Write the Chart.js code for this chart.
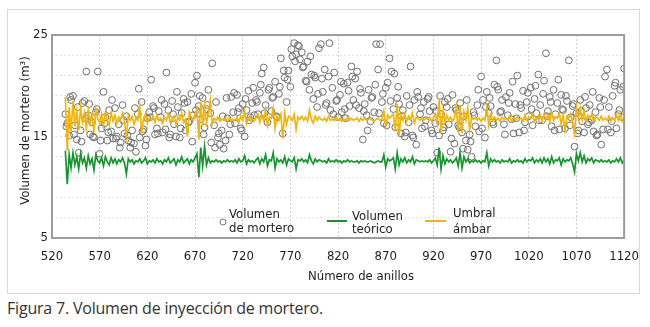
<!DOCTYPE html>
<html>
<head>
<meta charset="utf-8">
<script src="https://cdn.jsdelivr.net/npm/chart.js@4.4.1/dist/chart.umd.min.js"></script>
<style>
  body { margin: 0; background: #fff; }
  #box { position: absolute; left: 7px; top: 9px; width: 633px; height: 285px; border: 1px solid #d9d9d9; box-sizing: border-box; }
  #chart { position: absolute; left: 0; top: 0; }
  #caption { position: absolute; left: 7px; top: 297px; font-family: 'Open Sans', sans-serif; font-size: 16px; letter-spacing: -0.2px; color: #333; white-space: nowrap; }
</style>
</head>
<body>
<div id="box"></div>
<canvas id="chart" width="650" height="295"></canvas>
<div id="caption">Figura 7. Volumen de inyección de mortero.</div>
<script>
// Data <------------------------------------------------------------------------>
const firstRing = 534;   // first ring with data
const ringStep = 2;      // line readings every 2 rings
const xTickValues = [520, 570, 620, 670, 720, 770, 820, 870, 920, 970, 1020, 1070, 1120];
const yTickLabels = [5, 15, 25];

// Volumen teórico (m3), rings 534..1120 every 2
const volumenTeorico = [
    13.6, 10.3, 13.2, 11.9, 13.4, 12.2, 13.0, 11.8, 13.3, 12.4, 12.9, 11.9, 13.1, 12.3, 12.8, 11.7, 13.2, 12.6, 12.4, 12.9, 12.1, 13.0, 12.5, 12.2, 12.9,
    12.4, 12.8, 12.3, 12.7, 12.5, 12.9, 12.4, 11.3, 12.8, 12.5, 12.7, 12.3, 12.6, 12.5, 12.8, 12.4, 12.6, 12.9, 12.3, 12.6, 12.5, 12.7, 12.4, 12.8, 12.5,
    12.6, 12.3, 12.7, 12.5, 12.9, 12.4, 12.6, 12.8, 12.2, 12.7, 12.5, 13.0, 12.4, 12.6, 12.8, 12.3, 12.7, 12.5, 12.9, 13.3, 11.0, 13.9, 12.1, 14.0, 12.2,
    12.9, 12.4, 12.6, 12.5, 12.7, 12.5, 12.6, 12.4, 12.6, 12.5, 12.7, 12.5, 12.6, 12.5, 12.7, 12.4, 12.8, 12.5, 12.6, 13.1, 12.3, 12.7, 12.5, 12.6, 12.4,
    12.7, 12.9, 12.3, 12.8, 12.5, 13.2, 12.1, 12.7, 12.6, 13.4, 11.9, 12.8, 12.5, 12.7, 12.4, 13.0, 12.2, 12.8, 12.6, 12.5, 12.9, 11.8, 12.7, 12.6, 12.8,
    12.5, 12.7, 12.4, 13.2, 12.6, 12.3, 12.8, 12.5, 12.7, 12.6, 12.5, 12.6, 12.4, 12.8, 12.5, 12.6, 12.5, 12.7, 12.5, 12.6, 12.4, 12.6, 12.5, 12.7, 12.5,
    12.6, 12.5, 12.5, 12.6, 12.4, 12.6, 12.5, 12.6, 12.5, 12.5, 12.6, 12.5, 12.4, 12.5, 12.6, 12.5, 12.5, 13.2, 12.0, 12.8, 12.6, 12.7, 12.9, 11.8, 13.4,
    12.2, 12.8, 12.5, 12.9, 12.4, 12.7, 12.5, 13.0, 12.3, 12.7, 12.6, 12.5, 12.6, 12.5, 12.6, 12.5, 12.7, 12.4, 12.6, 12.9, 12.2, 13.9, 11.8, 13.1, 12.3,
    12.8, 12.5, 12.7, 12.4, 12.6, 12.9, 12.1, 13.4, 11.9, 13.0, 12.5, 12.8, 12.4, 12.6, 12.5, 12.7, 12.5, 12.6, 12.4, 12.6, 12.5, 13.4, 12.1, 12.8, 12.5,
    12.7, 12.5, 12.6, 12.4, 12.7, 12.5, 12.6, 12.5, 12.8, 12.4, 12.6, 12.5, 12.7, 12.5, 12.6, 12.4, 12.8, 12.5, 12.7, 12.6, 12.9, 12.4, 12.7, 12.5, 12.8,
    12.4, 12.9, 12.5, 12.8, 12.3, 13.0, 12.4, 12.7, 12.6, 12.9, 12.2, 12.8, 12.5, 12.7, 12.6, 12.9, 12.3, 11.5, 13.3, 12.6, 13.4, 12.5, 13.1, 12.4, 12.8,
    12.6, 12.9, 12.4, 12.7, 12.6, 12.5, 12.7, 12.5, 12.6, 12.5, 12.7, 12.4, 12.6, 12.5, 12.8, 12.5, 12.9, 12.4, 12.7
];

// Umbral ámbar (m3), rings 534..1120 every 2
const umbralAmbar = [
    18.9, 13.6, 17.9, 15.5, 18.5, 16.0, 17.5, 15.6, 17.8, 16.4, 17.3, 15.8, 17.6, 16.3, 17.1, 15.4, 17.7, 16.7, 16.4, 17.2, 16.0, 17.4, 16.6, 16.1, 17.3,
    16.5, 17.1, 16.3, 16.9, 16.6, 17.3, 16.4, 15.0, 17.1, 16.6, 17.0, 16.2, 16.8, 16.6, 18.0, 15.3, 16.8, 17.2, 16.3, 16.8, 16.6, 17.0, 16.4, 17.1, 16.6,
    16.8, 16.3, 16.9, 16.6, 17.2, 16.4, 16.7, 17.0, 16.2, 16.9, 16.6, 17.3, 16.4, 16.7, 15.0, 17.4, 16.9, 16.6, 17.2, 17.7, 14.7, 18.4, 16.1, 17.9, 16.3,
    17.2, 18.6, 16.2, 16.8, 16.6, 16.9, 16.5, 16.7, 16.6, 16.8, 16.5, 16.9, 16.6, 16.7, 16.5, 16.9, 16.4, 17.0, 16.6, 17.5, 16.3, 16.9, 16.6, 16.8, 16.5,
    16.9, 17.2, 16.4, 17.1, 16.6, 17.6, 16.1, 16.9, 16.8, 17.8, 15.8, 17.0, 16.6, 17.2, 14.8, 17.3, 16.2, 17.0, 16.8, 16.6, 17.2, 15.7, 16.9, 16.7, 17.0,
    16.6, 16.9, 16.5, 17.6, 16.7, 16.3, 17.0, 16.6, 16.9, 16.7, 16.6, 16.8, 16.5, 17.0, 16.6, 16.7, 16.6, 16.9, 16.6, 16.8, 16.5, 16.7, 16.6, 16.9, 16.6,
    16.8, 16.6, 16.7, 16.8, 16.5, 16.8, 16.6, 16.8, 16.6, 16.7, 16.8, 16.6, 16.5, 16.7, 16.8, 16.6, 16.7, 17.5, 16.0, 17.1, 16.8, 17.0, 17.2, 15.6, 18.2,
    15.1, 17.1, 16.6, 17.2, 16.5, 17.0, 16.7, 17.3, 16.3, 16.9, 16.8, 16.6, 16.8, 16.6, 16.8, 16.7, 16.9, 16.5, 16.8, 17.2, 16.3, 18.6, 15.3, 17.5, 16.4,
    17.1, 16.6, 16.9, 16.5, 16.8, 17.9, 15.4, 18.1, 15.3, 17.4, 16.6, 17.8, 15.6, 16.8, 16.7, 16.9, 16.6, 16.8, 16.5, 16.8, 16.6, 17.9, 16.1, 17.1, 16.6,
    16.9, 16.6, 16.8, 16.5, 16.9, 16.7, 16.8, 16.6, 17.0, 16.5, 16.8, 16.6, 16.9, 16.7, 16.8, 16.5, 17.1, 16.6, 16.9, 16.8, 17.2, 16.5, 16.9, 16.7, 17.1,
    16.5, 17.2, 16.7, 17.1, 16.4, 17.4, 16.6, 16.9, 16.8, 17.3, 16.2, 17.1, 15.6, 17.0, 16.8, 17.2, 16.4, 15.3, 17.9, 16.8, 17.8, 16.6, 17.5, 16.5, 17.1,
    16.8, 17.2, 16.5, 16.9, 16.8, 16.6, 17.0, 16.6, 16.8, 16.6, 17.0, 16.5, 16.8, 16.6, 17.1, 16.6, 17.3, 16.5, 16.9
];

// Volumen de mortero inyectado (m3), rings 534..1120 every 2
const volumenMortero = [
    17.2, 16.3, 15.1, 18.6, 19.0, 16.1, 14.7, 13.4, 15.6, 18.3, 18.5, 21.4, 17.1, 15.2, 16.4, 14.9, 17.4, 21.4, 13.3, 15.8, 19.4, 16.9, 14.6, 17.6, 15.5,
    14.8, 17.8, 15.0, 16.2, 14.4, 18.1, 15.3, 17.0, 14.6, 13.9, 15.6, 14.3, 13.5, 17.2, 14.9, 18.4, 15.7, 14.1, 16.8, 17.4, 20.6, 18.0, 15.2, 15.8, 17.5,
    16.9, 15.4, 18.2, 21.3, 17.6, 15.2, 18.5, 16.2, 15.0, 17.9, 14.9, 17.3, 18.7, 15.6, 18.4, 16.5, 19.2, 17.1, 20.3, 21.0, 18.0, 16.7, 18.8, 15.9, 17.7,
    19.6, 17.3, 22.2, 16.1, 18.4, 14.9, 14.2, 15.6, 13.8, 14.6, 16.8, 15.2, 18.9, 17.4, 16.3, 19.1, 17.8, 15.8, 18.2, 15.0, 17.6, 19.5, 16.9, 18.3, 17.1,
    18.6, 17.2, 19.3, 21.2, 21.8, 18.1, 16.4, 19.8, 17.5, 18.9, 20.4, 16.9, 19.2, 22.7, 15.3, 20.8, 18.4, 21.5, 19.9, 22.9, 24.2, 23.1, 24.0, 22.6, 23.3,
    21.9, 20.5, 22.4, 19.6, 21.1, 18.7, 20.8, 17.9, 23.7, 24.1, 19.4, 21.6, 18.3, 20.9, 17.6, 19.8, 21.3, 18.5, 16.9, 19.1, 17.4, 20.2, 16.8, 20.3, 18.0,
    21.9, 18.6, 20.7, 21.4, 17.8, 19.3, 14.7, 18.2, 17.1, 19.6, 16.5, 18.9, 17.4, 24.1, 21.6, 24.1, 18.4, 16.3, 19.8, 20.3, 22.7, 21.4, 17.7, 15.9, 18.8,
    18.2, 15.3, 17.6, 15.0, 19.0, 16.4, 21.9, 15.1, 18.6, 14.2, 18.9, 17.2, 15.8, 18.4, 16.6, 18.7, 17.5, 15.6, 17.9, 16.3, 13.4, 15.1, 17.2, 15.6, 18.4,
    17.9, 16.2, 13.5, 19.1, 14.3, 17.6, 16.1, 18.3, 15.4, 17.0, 14.6, 13.7, 15.2, 13.0, 17.4, 16.0, 18.1, 15.5, 20.9, 18.6, 14.9, 19.4, 17.3, 18.0, 16.4,
    20.1, 22.5, 19.6, 17.4, 18.6, 16.2, 18.9, 17.1, 19.3, 16.7, 15.3, 18.2, 21.0, 15.4, 17.8, 19.5, 16.4, 18.4, 17.0, 19.8, 16.1, 18.7, 17.3, 21.1, 18.1,
    16.6, 20.5, 23.2, 17.5, 18.9, 16.0, 19.6, 17.2, 18.3, 15.7, 19.1, 17.6, 15.8, 18.5, 22.5, 16.9, 18.0, 14.0, 17.3, 15.6, 18.6, 16.5, 15.4, 17.8, 16.2,
    18.1, 16.6, 15.5, 17.4, 15.2, 18.8, 14.2, 15.7, 20.9, 21.6, 17.9, 15.4, 19.0, 20.0, 15.8, 17.2, 19.6, 16.9, 21.7
];

// Volumen de mortero, extra readings on rings 535..1119 every 4
const firstOddRing = 535;
const oddRingStep = 4;
const volumenMorteroImpar = [
    16.0, 18.9, 15.2, 17.9, 14.5, 16.8, 18.2, 15.0, 17.7, 14.6, 16.3, 15.4, 18.6, 14.8, 13.9, 16.6, 15.1, 14.4, 17.8, 19.7, 15.5, 14.7, 16.9, 17.8, 15.3,
    18.6, 15.7, 14.9, 17.2, 19.4, 15.8, 18.3, 16.4, 14.5, 17.6, 19.0, 15.2, 18.1, 14.4, 13.9, 15.3, 17.0, 18.8, 16.2, 19.3, 17.4, 15.6, 18.7, 16.6, 19.8,
    18.4, 20.1, 17.3, 19.6, 18.8, 17.0, 19.9, 21.5, 20.6, 23.6, 22.4, 23.9, 21.8, 20.4, 22.9, 21.0, 19.2, 20.7, 18.1, 24.2, 17.2, 18.6, 20.4, 17.7, 19.5,
    20.9, 18.1, 19.7, 17.5, 15.6, 18.8, 20.1, 17.3, 19.2, 16.1, 18.5, 21.2, 19.9, 17.0, 15.4, 18.1, 14.9, 19.4, 17.8, 16.0, 18.9, 15.3, 17.5, 19.0, 15.9,
    18.7, 14.8, 17.8, 15.9, 13.8, 18.6, 14.5, 17.1, 19.6, 15.8, 17.9, 18.8, 16.2, 19.9, 17.5, 15.2, 18.3, 20.4, 16.8, 18.1, 15.6, 19.3, 17.7, 20.0, 16.6,
    19.2, 17.0, 18.4, 15.6, 20.6, 17.7, 19.0, 16.1, 18.2, 15.3, 17.5, 18.9, 16.4, 19.4, 15.1, 17.9, 18.6, 15.7, 16.5, 20.3, 17.6, 19.9
];

const legendLines = [['Volumen', 'de mortero'], ['Volumen', 'teórico'], ['Umbral', 'ámbar']];

const toPoints = (arr, start, step) => arr.map((v, i) => ({ x: start + i * step, y: v }));

const FONT = "'Liberation Sans Narrow', 'DejaVu Sans Condensed', Lato, sans-serif";
const GREEN = '#17952e';
const AMBER = '#f2b60a';

// Frame, axis titles and the in-plot legend <----------------------------------->
const decorPlugin = {
    id: 'decor',
    afterDraw(chart) {
        const ctx = chart.ctx;
        const a = chart.chartArea;
        ctx.save();
        // plot frame
        ctx.strokeStyle = '#9d9d9d';
        ctx.lineWidth = 2;
        ctx.strokeRect(a.left, a.top, a.right - a.left, a.bottom - a.top);

        ctx.fillStyle = '#1e1e1e';
        ctx.font = '13px ' + FONT;
        ctx.textBaseline = 'middle';

        // x title
        ctx.textAlign = 'center';
        ctx.fillText('Número de anillos', (a.left + a.right) / 2 + 23, a.bottom + 39);

        // y title
        ctx.save();
        ctx.translate(26, (a.top + a.bottom) / 2 - 6);
        ctx.rotate(-Math.PI / 2);
        ctx.fillText('Volumen de mortero (m³)', 0, 0);
        ctx.restore();

        // legend
        ctx.textAlign = 'left';
        const b = a.bottom;
        ctx.strokeStyle = '#777';
        ctx.lineWidth = 1;
        ctx.beginPath();
        ctx.arc(a.left + 171, b - 16, 3, 0, Math.PI * 2);
        ctx.stroke();
        ctx.fillText(legendLines[0][0], a.left + 177, b - 23);
        ctx.fillText(legendLines[0][1], a.left + 177, b - 9);

        ctx.lineWidth = 2;
        ctx.strokeStyle = GREEN;
        ctx.beginPath();
        ctx.moveTo(a.left + 275, b - 17);
        ctx.lineTo(a.left + 295, b - 17);
        ctx.stroke();
        ctx.fillText(legendLines[1][0], a.left + 300, b - 21);
        ctx.fillText(legendLines[1][1], a.left + 300, b - 8);

        ctx.strokeStyle = AMBER;
        ctx.beginPath();
        ctx.moveTo(a.left + 373, b - 17);
        ctx.lineTo(a.left + 394, b - 17);
        ctx.stroke();
        ctx.fillText(legendLines[2][0], a.left + 401, b - 24);
        ctx.fillText(legendLines[2][1], a.left + 401, b - 8);
        ctx.restore();
    }
};

const ctx = document.getElementById('chart').getContext('2d');

new Chart(ctx, {
    type: 'line',
    data: {
        datasets: [
            {
                label: 'Volumen teórico',
                data: toPoints(volumenTeorico, firstRing, ringStep),
                borderColor: GREEN,
                borderWidth: 1.7,
                pointRadius: 0,
                tension: 0,
                order: 1
            },
            {
                label: 'Umbral ámbar',
                data: toPoints(umbralAmbar, firstRing, ringStep),
                borderColor: AMBER,
                borderWidth: 1.7,
                pointRadius: 0,
                tension: 0,
                order: 2
            },
            {
                type: 'scatter',
                label: 'Volumen de mortero',
                data: toPoints(volumenMortero, firstRing, ringStep)
                    .concat(toPoints(volumenMorteroImpar, firstOddRing, oddRingStep)),
                borderColor: '#6e6e6e',
                backgroundColor: 'rgba(0,0,0,0)',
                borderWidth: 1,
                pointRadius: 3.4,
                order: 3
            }
        ]
    },
    options: {
        responsive: false,
        animation: false,
        devicePixelRatio: 1,
        layout: { padding: { top: 35, right: 25, left: 0, bottom: 0 } },
        plugins: {
            legend: { display: false },
            tooltip: { enabled: false }
        },
        scales: {
            x: {
                type: 'linear',
                min: 520,
                max: 1120,
                afterFit: s => { s.height = 57; },
                afterBuildTicks: s => { s.ticks = xTickValues.map(v => ({ value: v })); },
                grid: { color: '#cfcfcf', drawTicks: false },
                border: { display: false, dash: [2, 2] },
                ticks: {
                    autoSkip: false,
                    maxRotation: 0,
                    padding: 11,
                    color: '#1e1e1e',
                    font: { family: FONT, size: 13 },
                    callback: v => String(v)
                }
            },
            y: {
                min: 5,
                max: 25,
                afterFit: s => { s.width = 52; },
                grid: { color: '#e4e4e4', drawTicks: false },
                border: { display: false, dash: [2, 2] },
                ticks: {
                    stepSize: 2,
                    autoSkip: false,
                    padding: 4,
                    color: '#1e1e1e',
                    font: { family: FONT, size: 13 },
                    callback: v => yTickLabels.includes(v) ? String(v) : ''
                }
            }
        }
    },
    plugins: [decorPlugin]
});
</script>
</body>
</html>
